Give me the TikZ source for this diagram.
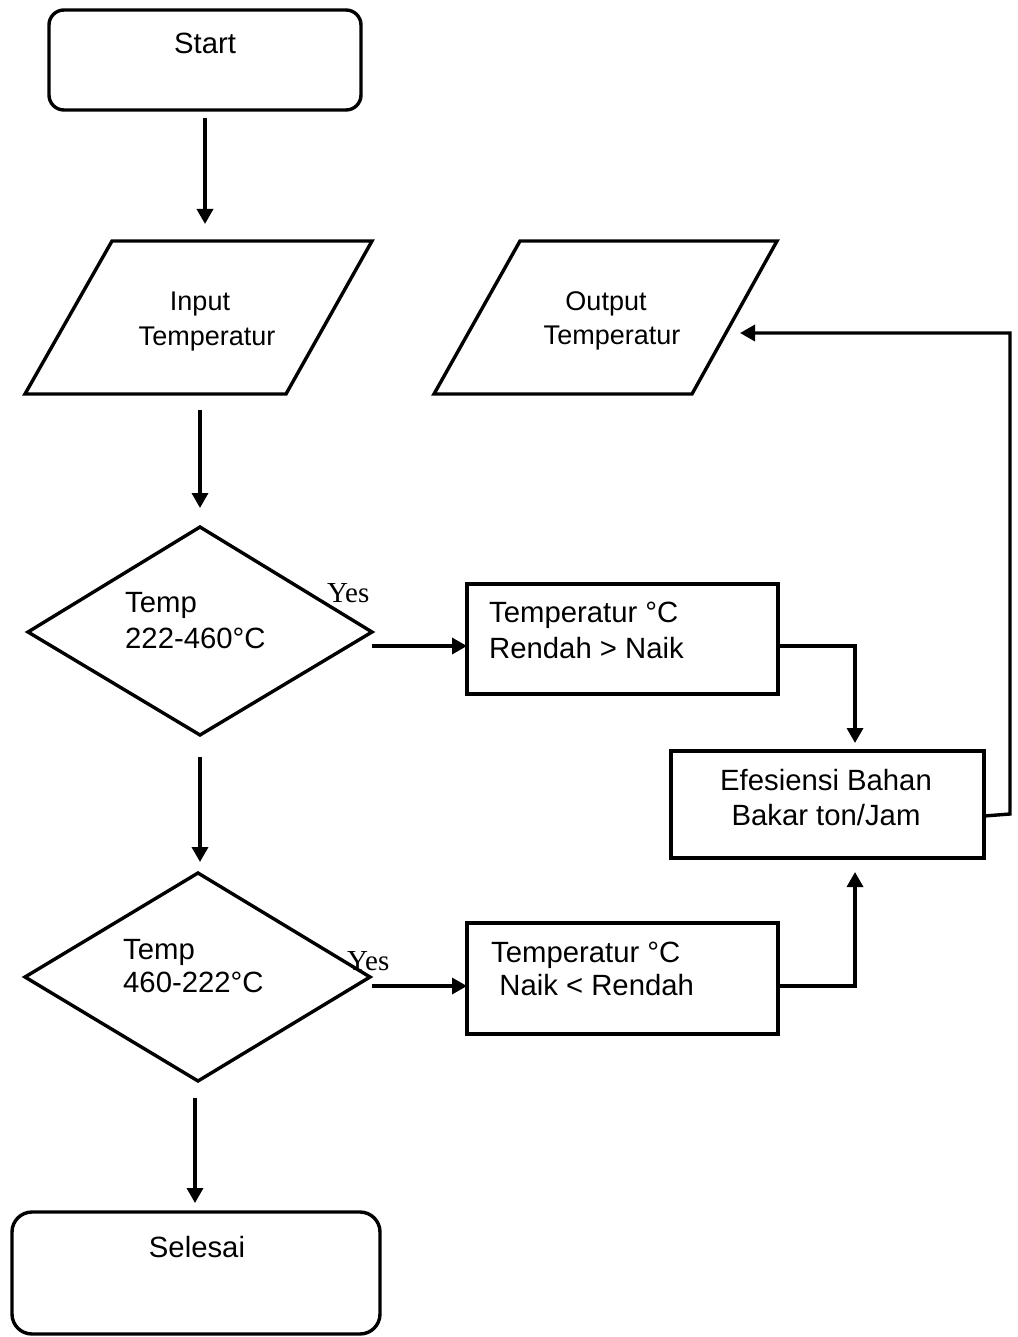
\documentclass[tikz,border=0pt]{standalone}
\usepackage{fontspec}
\setmainfont{Liberation Sans}
\newfontfamily\yesfont{Liberation Serif}
\usetikzlibrary{arrows.meta}
\begin{document}
\begin{tikzpicture}[x=1pt,y=-1pt,
  shapeline/.style={draw=black, line width=3.4pt, line join=miter},
  box/.style={shapeline, rectangle, inner sep=0pt},
  conn/.style={line width=3.4pt, -{Triangle[length=15pt,width=16pt]}},
  link/.style={line width=3.4pt},
  txt/.style={inner sep=0pt, font=\fontsize{29.3}{35}\selectfont},
  ptxt/.style={inner sep=0pt, font=\fontsize{27}{32}\selectfont},
  yes/.style={inner sep=0pt, font=\yesfont\fontsize{29}{34}\selectfont},
]
\useasboundingbox (0,0) rectangle (1017,1337);

% shapes
\node[box, rounded corners=15pt, minimum width=312pt, minimum height=100pt] (start) at (205,60) {};
\draw[shapeline] (112,241) coordinate (inTL) -- (372,241) coordinate (inTR) -- (286,394) coordinate (inBR) -- (25,394) coordinate (inBL) -- cycle;
\draw[shapeline] (520,241) coordinate (outTL) -- (777,241) coordinate (outTR) -- (692,394) coordinate (outBR) -- (434,394) coordinate (outBL) -- cycle;
\draw[shapeline] (200,527) coordinate (d1N) -- (372,632) coordinate (d1E) -- (200,735) coordinate (d1S) -- (28,632) coordinate (d1W) -- cycle;
\node[box, minimum width=311pt, minimum height=110pt] (box1) at (622.5,639) {};
\node[box, minimum width=313pt, minimum height=107pt] (efes) at (827.5,804.5) {};
\draw[shapeline] (198,873) coordinate (d2N) -- (370,977) coordinate (d2E) -- (198,1081) coordinate (d2S) -- (25,977) coordinate (d2W) -- cycle;
\node[box, minimum width=311pt, minimum height=111pt] (box2) at (622.5,978.5) {};
\node[box, rounded corners=20pt, minimum width=368pt, minimum height=122pt] (selesai) at (196,1273) {};

% texts
\node[txt, anchor=base] (tStart) at (205,54) {Start};
\node[ptxt, anchor=base] (tIn1) at (200,310) {Input};
\node[ptxt, anchor=base] (tIn2) at (207,345) {Temperatur};
\node[ptxt, anchor=base] (tOut1) at (606,310) {Output};
\node[ptxt, anchor=base] (tOut2) at (612,344) {Temperatur};
\node[txt, anchor=base west] (tD1a) at (125,612) {Temp};
\node[txt, anchor=base west] (tD1b) at (125,648) {222-460°C};
\node[yes, anchor=base west] (yes1) at (327,602) {Yes};
\node[txt, anchor=base west] (tB1a) at (489,622) {Temperatur °C};
\node[txt, anchor=base west] (tB1b) at (489,658) {Rendah > Naik};
\node[txt, anchor=base] (tE1) at (826,790) {Efesiensi Bahan};
\node[txt, anchor=base] (tE2) at (826,825) {Bakar ton/Jam};
\node[txt, anchor=base west] (tD2a) at (123,959) {Temp};
\node[txt, anchor=base west] (tD2b) at (123,992) {460-222°C};
\node[yes, anchor=base west] (yes2) at (347,970) {Yes};
\node[txt, anchor=base west] (tB2a) at (491,962) {Temperatur °C};
\node[txt, anchor=base west] (tB2b) at (491,995) {\ Naik < Rendah};
\node[txt, anchor=base] (tSel) at (197,1257) {Selesai};

% connector end points
\coordinate (c1a) at (205,118); \coordinate (c1b) at (205,224);
\coordinate (c2a) at (200,410); \coordinate (c2b) at (200,508);
\coordinate (c3a) at (372,646); \coordinate (c3b) at (467,646);
\coordinate (c4a) at (778,646); \coordinate (c4m) at (855,646); \coordinate (c4b) at (855,743);
\coordinate (c5a) at (200,757); \coordinate (c5b) at (200,862);
\coordinate (c6a) at (372,986); \coordinate (c6b) at (467,986);
\coordinate (c7a) at (778,986); \coordinate (c7m) at (855,986); \coordinate (c7b) at (855,872);
\coordinate (c8a) at (984,816); \coordinate (c8m) at (1010,814); \coordinate (c8n) at (1010,333); \coordinate (c8b) at (740,333);
\coordinate (c9a) at (195,1098); \coordinate (c9b) at (195,1203);

% connectors
\draw[conn] (c1a) -- (c1b);
\draw[conn] (c2a) -- (c2b);
\draw[conn] (c3a) -- (c3b);
\draw[conn] (c4a) -- (c4m) -- (c4b);
\draw[conn] (c5a) -- (c5b);
\draw[conn] (c6a) -- (c6b);
\draw[conn] (c7a) -- (c7m) -- (c7b);
\draw[conn] (c8a) -- (c8m) -- (c8n) -- (c8b);
\draw[conn] (c9a) -- (c9b);
\end{tikzpicture}
\end{document}
